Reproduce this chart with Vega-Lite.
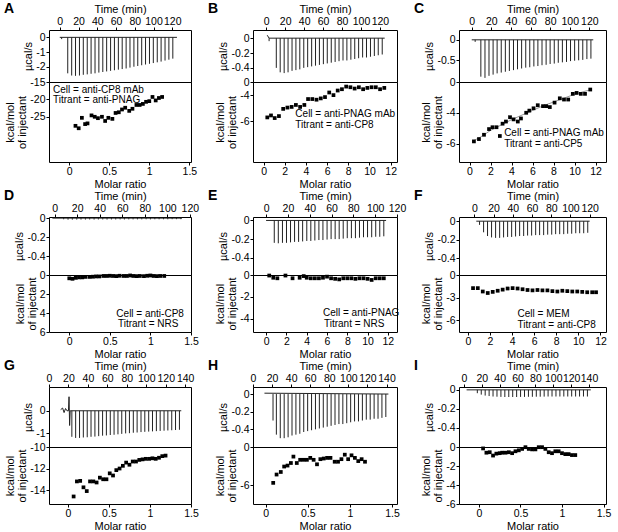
{
"$schema": "https://vega.github.io/schema/vega-lite/v6.json",
"background": "white",
"padding": {"left": 3, "top": 1, "right": 0, "bottom": 0},
"datasets": {
"spk": [
{"p":"A","t":2,"v":-0.12},{"p":"A","t":8.5,"v":-2.45},{"p":"A","t":12.7,"v":-2.6},{"p":"A","t":16.8,"v":-2.62},{"p":"A","t":21,"v":-2.6},{"p":"A","t":25.1,"v":-2.55},{"p":"A","t":29.3,"v":-2.52},{"p":"A","t":33.4,"v":-2.48},{"p":"A","t":37.6,"v":-2.45},{"p":"A","t":41.7,"v":-2.4},{"p":"A","t":45.9,"v":-2.36},{"p":"A","t":50,"v":-2.32},{"p":"A","t":54.2,"v":-2.28},{"p":"A","t":58.3,"v":-2.24},{"p":"A","t":62.5,"v":-2.2},{"p":"A","t":66.6,"v":-2.16},{"p":"A","t":70.8,"v":-2.12},{"p":"A","t":74.9,"v":-2.06},{"p":"A","t":79.1,"v":-2},{"p":"A","t":83.2,"v":-1.95},{"p":"A","t":87.4,"v":-1.9},{"p":"A","t":91.5,"v":-1.85},{"p":"A","t":95.7,"v":-1.8},{"p":"A","t":99.8,"v":-1.75},{"p":"A","t":104,"v":-1.7},{"p":"A","t":108.1,"v":-1.65},{"p":"A","t":112.3,"v":-1.58},{"p":"A","t":116.4,"v":-1.52},{"p":"A","t":120.6,"v":-1.45},
{"p":"B","t":3,"v":-0.04},{"p":"B","t":10.6,"v":-0.4},{"p":"B","t":14.7,"v":-0.46},{"p":"B","t":18.9,"v":-0.47},{"p":"B","t":23,"v":-0.46},{"p":"B","t":27.2,"v":-0.44},{"p":"B","t":31.3,"v":-0.43},{"p":"B","t":35.4,"v":-0.42},{"p":"B","t":39.6,"v":-0.4},{"p":"B","t":43.7,"v":-0.39},{"p":"B","t":47.9,"v":-0.38},{"p":"B","t":52,"v":-0.37},{"p":"B","t":56.1,"v":-0.36},{"p":"B","t":60.3,"v":-0.35},{"p":"B","t":64.4,"v":-0.34},{"p":"B","t":68.6,"v":-0.33},{"p":"B","t":72.7,"v":-0.32},{"p":"B","t":76.8,"v":-0.31},{"p":"B","t":81,"v":-0.3},{"p":"B","t":85.1,"v":-0.3},{"p":"B","t":89.3,"v":-0.29},{"p":"B","t":93.4,"v":-0.28},{"p":"B","t":97.5,"v":-0.27},{"p":"B","t":101.7,"v":-0.26},{"p":"B","t":105.8,"v":-0.26},{"p":"B","t":110,"v":-0.25},{"p":"B","t":114.1,"v":-0.24},{"p":"B","t":118.2,"v":-0.23},{"p":"B","t":122.4,"v":-0.22},
{"p":"C","t":3.5,"v":-0.05},{"p":"C","t":9.3,"v":-0.9},{"p":"C","t":13.5,"v":-0.93},{"p":"C","t":17.6,"v":-0.88},{"p":"C","t":21.8,"v":-0.85},{"p":"C","t":25.9,"v":-0.82},{"p":"C","t":30.1,"v":-0.8},{"p":"C","t":34.3,"v":-0.78},{"p":"C","t":38.4,"v":-0.76},{"p":"C","t":42.6,"v":-0.74},{"p":"C","t":46.7,"v":-0.72},{"p":"C","t":50.9,"v":-0.7},{"p":"C","t":55.1,"v":-0.68},{"p":"C","t":59.2,"v":-0.67},{"p":"C","t":63.4,"v":-0.65},{"p":"C","t":67.5,"v":-0.64},{"p":"C","t":71.7,"v":-0.62},{"p":"C","t":75.9,"v":-0.61},{"p":"C","t":80,"v":-0.59},{"p":"C","t":84.2,"v":-0.58},{"p":"C","t":88.3,"v":-0.56},{"p":"C","t":92.5,"v":-0.55},{"p":"C","t":96.7,"v":-0.54},{"p":"C","t":100.8,"v":-0.52},{"p":"C","t":105,"v":-0.51},{"p":"C","t":109.1,"v":-0.5},{"p":"C","t":113.3,"v":-0.49},{"p":"C","t":117.5,"v":-0.47},{"p":"C","t":121.6,"v":-0.46},
{"p":"D","t":8,"v":-0.012},{"p":"D","t":11.9,"v":-0.016},{"p":"D","t":15.7,"v":-0.016},{"p":"D","t":19.6,"v":-0.015},{"p":"D","t":23.4,"v":-0.015},{"p":"D","t":27.3,"v":-0.015},{"p":"D","t":31.1,"v":-0.014},{"p":"D","t":35,"v":-0.015},{"p":"D","t":38.8,"v":-0.014},{"p":"D","t":42.7,"v":-0.014},{"p":"D","t":46.5,"v":-0.015},{"p":"D","t":50.4,"v":-0.014},{"p":"D","t":54.2,"v":-0.014},{"p":"D","t":58.1,"v":-0.013},{"p":"D","t":61.9,"v":-0.014},{"p":"D","t":65.8,"v":-0.013},{"p":"D","t":69.6,"v":-0.013},{"p":"D","t":73.5,"v":-0.013},{"p":"D","t":77.3,"v":-0.013},{"p":"D","t":81.2,"v":-0.012},{"p":"D","t":85,"v":-0.013},{"p":"D","t":88.9,"v":-0.012},{"p":"D","t":92.7,"v":-0.012},{"p":"D","t":96.6,"v":-0.012},{"p":"D","t":100.4,"v":-0.012},{"p":"D","t":104.3,"v":-0.011},{"p":"D","t":108.1,"v":-0.011},{"p":"D","t":112,"v":-0.011},
{"p":"E","t":7.5,"v":-0.24},{"p":"E","t":11.2,"v":-0.245},{"p":"E","t":15,"v":-0.24},{"p":"E","t":18.7,"v":-0.24},{"p":"E","t":22.4,"v":-0.235},{"p":"E","t":26.1,"v":-0.23},{"p":"E","t":29.8,"v":-0.23},{"p":"E","t":33.5,"v":-0.225},{"p":"E","t":37.3,"v":-0.22},{"p":"E","t":41,"v":-0.22},{"p":"E","t":44.7,"v":-0.215},{"p":"E","t":48.4,"v":-0.21},{"p":"E","t":52.1,"v":-0.21},{"p":"E","t":55.9,"v":-0.205},{"p":"E","t":59.6,"v":-0.2},{"p":"E","t":63.3,"v":-0.2},{"p":"E","t":67,"v":-0.2},{"p":"E","t":70.7,"v":-0.195},{"p":"E","t":74.4,"v":-0.19},{"p":"E","t":78.2,"v":-0.19},{"p":"E","t":81.9,"v":-0.19},{"p":"E","t":85.6,"v":-0.185},{"p":"E","t":89.3,"v":-0.18},{"p":"E","t":93,"v":-0.18},{"p":"E","t":96.8,"v":-0.18},{"p":"E","t":100.5,"v":-0.175},{"p":"E","t":104.2,"v":-0.175},{"p":"E","t":107.9,"v":-0.17},
{"p":"F","t":5.4,"v":-0.04},{"p":"F","t":9.6,"v":-0.12},{"p":"F","t":13.7,"v":-0.16},{"p":"F","t":17.9,"v":-0.175},{"p":"F","t":22.1,"v":-0.18},{"p":"F","t":26.3,"v":-0.18},{"p":"F","t":30.4,"v":-0.175},{"p":"F","t":34.6,"v":-0.17},{"p":"F","t":38.8,"v":-0.17},{"p":"F","t":42.9,"v":-0.165},{"p":"F","t":47.1,"v":-0.16},{"p":"F","t":51.3,"v":-0.16},{"p":"F","t":55.4,"v":-0.155},{"p":"F","t":59.6,"v":-0.155},{"p":"F","t":63.8,"v":-0.15},{"p":"F","t":67.9,"v":-0.15},{"p":"F","t":72.1,"v":-0.15},{"p":"F","t":76.3,"v":-0.145},{"p":"F","t":80.5,"v":-0.145},{"p":"F","t":84.6,"v":-0.14},{"p":"F","t":88.8,"v":-0.14},{"p":"F","t":93,"v":-0.14},{"p":"F","t":97.1,"v":-0.135},{"p":"F","t":101.3,"v":-0.135},{"p":"F","t":105.5,"v":-0.13},{"p":"F","t":109.6,"v":-0.13},{"p":"F","t":113.8,"v":-0.13},{"p":"F","t":118,"v":-0.125},
{"p":"G","t":23.5,"v":-1.15},{"p":"G","t":27.4,"v":-1.2},{"p":"G","t":31.4,"v":-1.2},{"p":"G","t":35.3,"v":-1.18},{"p":"G","t":39.3,"v":-1.17},{"p":"G","t":43.2,"v":-1.15},{"p":"G","t":47.2,"v":-1.14},{"p":"G","t":51.1,"v":-1.12},{"p":"G","t":55.1,"v":-1.1},{"p":"G","t":59,"v":-1.09},{"p":"G","t":63,"v":-1.07},{"p":"G","t":66.9,"v":-1.06},{"p":"G","t":70.9,"v":-1.04},{"p":"G","t":74.8,"v":-1.02},{"p":"G","t":78.8,"v":-1},{"p":"G","t":82.7,"v":-0.99},{"p":"G","t":86.7,"v":-0.97},{"p":"G","t":90.6,"v":-0.96},{"p":"G","t":94.6,"v":-0.94},{"p":"G","t":98.5,"v":-0.93},{"p":"G","t":102.5,"v":-0.92},{"p":"G","t":106.4,"v":-0.91},{"p":"G","t":110.4,"v":-0.9},{"p":"G","t":114.3,"v":-0.89},{"p":"G","t":118.3,"v":-0.88},{"p":"G","t":122.2,"v":-0.87},{"p":"G","t":126.2,"v":-0.86},{"p":"G","t":130.1,"v":-0.85},{"p":"G","t":134.1,"v":-0.84},
{"p":"H","t":21,"v":-0.3},{"p":"H","t":24.5,"v":-0.46},{"p":"H","t":28.6,"v":-0.5},{"p":"H","t":32.7,"v":-0.5},{"p":"H","t":36.8,"v":-0.49},{"p":"H","t":40.9,"v":-0.47},{"p":"H","t":45,"v":-0.46},{"p":"H","t":49.1,"v":-0.45},{"p":"H","t":53.2,"v":-0.43},{"p":"H","t":57.3,"v":-0.42},{"p":"H","t":61.4,"v":-0.41},{"p":"H","t":65.5,"v":-0.4},{"p":"H","t":69.6,"v":-0.39},{"p":"H","t":73.7,"v":-0.38},{"p":"H","t":77.8,"v":-0.37},{"p":"H","t":81.9,"v":-0.36},{"p":"H","t":86,"v":-0.35},{"p":"H","t":90.1,"v":-0.34},{"p":"H","t":94.2,"v":-0.34},{"p":"H","t":98.3,"v":-0.33},{"p":"H","t":102.4,"v":-0.32},{"p":"H","t":106.5,"v":-0.31},{"p":"H","t":110.6,"v":-0.31},{"p":"H","t":114.7,"v":-0.3},{"p":"H","t":118.8,"v":-0.29},{"p":"H","t":122.9,"v":-0.29},{"p":"H","t":127,"v":-0.28},{"p":"H","t":131.1,"v":-0.28},{"p":"H","t":135.2,"v":-0.27},{"p":"H","t":139.3,"v":-0.26},
{"p":"I","t":15,"v":-0.035},{"p":"I","t":19.4,"v":-0.05},{"p":"I","t":23.8,"v":-0.06},{"p":"I","t":28.2,"v":-0.065},{"p":"I","t":32.6,"v":-0.07},{"p":"I","t":37,"v":-0.072},{"p":"I","t":41.4,"v":-0.074},{"p":"I","t":45.8,"v":-0.075},{"p":"I","t":50.2,"v":-0.075},{"p":"I","t":54.6,"v":-0.075},{"p":"I","t":59,"v":-0.075},{"p":"I","t":63.4,"v":-0.074},{"p":"I","t":67.8,"v":-0.074},{"p":"I","t":72.2,"v":-0.073},{"p":"I","t":76.6,"v":-0.073},{"p":"I","t":81,"v":-0.072},{"p":"I","t":85.4,"v":-0.072},{"p":"I","t":89.8,"v":-0.071},{"p":"I","t":94.2,"v":-0.07},{"p":"I","t":98.6,"v":-0.07},{"p":"I","t":103,"v":-0.07},{"p":"I","t":107.4,"v":-0.07},{"p":"I","t":111.8,"v":-0.07},{"p":"I","t":116.2,"v":-0.07},{"p":"I","t":120.6,"v":-0.07},{"p":"I","t":125,"v":-0.07},{"p":"I","t":129.4,"v":-0.07},{"p":"I","t":133.8,"v":-0.07},{"p":"I","t":138.2,"v":-0.07}
],
"base": [
{"p":"A","t":0,"v":0},{"p":"A","t":125,"v":0},
{"p":"B","t":1,"v":0.04},{"p":"B","t":3,"v":0},{"p":"B","t":125,"v":0},
{"p":"C","t":0,"v":0},{"p":"C","t":124,"v":0},
{"p":"D","t":-2,"v":0},{"p":"D","t":113,"v":0},
{"p":"E","t":0,"v":0},{"p":"E","t":110,"v":0},
{"p":"F","t":2,"v":0},{"p":"F","t":120,"v":0},
{"p":"G","t":12,"v":0.05},{"p":"G","t":14,"v":0.12},{"p":"G","t":15.5,"v":-0.08},{"p":"G","t":17,"v":0.1},{"p":"G","t":18.5,"v":0},{"p":"G","t":20,"v":0},{"p":"G","t":20.6,"v":0.62},{"p":"G","t":21.2,"v":-0.65},{"p":"G","t":21.8,"v":0},{"p":"G","t":136,"v":0},
{"p":"H","t":12,"v":0.01},{"p":"H","t":142,"v":0},
{"p":"I","t":3,"v":0},{"p":"I","t":142,"v":0}
],
"pts": [
{"p":"A","x":0.08,"y":-27.6},{"p":"A","x":0.12,"y":-28.3},{"p":"A","x":0.16,"y":-25.3},{"p":"A","x":0.2,"y":-27.1},{"p":"A","x":0.23,"y":-26.9},{"p":"A","x":0.28,"y":-24.6},{"p":"A","x":0.32,"y":-25},{"p":"A","x":0.36,"y":-25.4},{"p":"A","x":0.41,"y":-25},{"p":"A","x":0.45,"y":-26.2},{"p":"A","x":0.49,"y":-25.3},{"p":"A","x":0.54,"y":-25.6},{"p":"A","x":0.58,"y":-23.9},{"p":"A","x":0.62,"y":-23.7},{"p":"A","x":0.66,"y":-22.9},{"p":"A","x":0.7,"y":-22.4},{"p":"A","x":0.75,"y":-23.3},{"p":"A","x":0.79,"y":-22.7},{"p":"A","x":0.84,"y":-21.6},{"p":"A","x":0.88,"y":-21.6},{"p":"A","x":0.92,"y":-21.3},{"p":"A","x":0.96,"y":-20.7},{"p":"A","x":1.0,"y":-20.5},{"p":"A","x":1.04,"y":-19.3},{"p":"A","x":1.08,"y":-20.3},{"p":"A","x":1.12,"y":-19.6},{"p":"A","x":1.16,"y":-19.3},
{"p":"B","x":0.35,"y":-5.7},{"p":"B","x":0.7,"y":-5.55},{"p":"B","x":1.05,"y":-5.75},{"p":"B","x":1.45,"y":-5.6},{"p":"B","x":1.85,"y":-5.05},{"p":"B","x":2.25,"y":-4.95},{"p":"B","x":2.65,"y":-4.9},{"p":"B","x":3.05,"y":-4.75},{"p":"B","x":3.45,"y":-4.9},{"p":"B","x":3.85,"y":-4.75},{"p":"B","x":4.2,"y":-4.3},{"p":"B","x":4.6,"y":-4.3},{"p":"B","x":5.0,"y":-4.35},{"p":"B","x":5.4,"y":-4.25},{"p":"B","x":5.8,"y":-4.15},{"p":"B","x":6.2,"y":-3.8},{"p":"B","x":6.6,"y":-4.0},{"p":"B","x":7.0,"y":-3.65},{"p":"B","x":7.4,"y":-3.55},{"p":"B","x":7.8,"y":-3.35},{"p":"B","x":8.2,"y":-3.4},{"p":"B","x":8.6,"y":-3.5},{"p":"B","x":9.0,"y":-3.4},{"p":"B","x":9.4,"y":-3.55},{"p":"B","x":9.8,"y":-3.45},{"p":"B","x":10.2,"y":-3.4},{"p":"B","x":10.6,"y":-3.4},{"p":"B","x":11.0,"y":-3.55},{"p":"B","x":11.4,"y":-3.45},
{"p":"C","x":0.42,"y":-5.86},{"p":"C","x":0.9,"y":-5.71},{"p":"C","x":1.38,"y":-5.43},{"p":"C","x":1.86,"y":-5.06},{"p":"C","x":2.19,"y":-4.94},{"p":"C","x":2.57,"y":-4.94},{"p":"C","x":2.89,"y":-5.51},{"p":"C","x":3.15,"y":-4.71},{"p":"C","x":3.47,"y":-4.57},{"p":"C","x":3.86,"y":-4.29},{"p":"C","x":4.2,"y":-4.43},{"p":"C","x":4.6,"y":-4.57},{"p":"C","x":4.9,"y":-4.37},{"p":"C","x":5.4,"y":-4.0},{"p":"C","x":5.7,"y":-3.86},{"p":"C","x":6.1,"y":-3.71},{"p":"C","x":6.5,"y":-3.51},{"p":"C","x":7.0,"y":-3.57},{"p":"C","x":7.3,"y":-3.57},{"p":"C","x":7.65,"y":-3.63},{"p":"C","x":8.1,"y":-3.34},{"p":"C","x":8.6,"y":-3.06},{"p":"C","x":9.0,"y":-3.14},{"p":"C","x":9.4,"y":-3.14},{"p":"C","x":9.84,"y":-2.77},{"p":"C","x":10.2,"y":-2.71},{"p":"C","x":10.6,"y":-2.77},{"p":"C","x":11.0,"y":-2.77},{"p":"C","x":11.5,"y":-2.49},
{"p":"D","x":0,"y":0.35},{"p":"D","x":0.04,"y":0.4},{"p":"D","x":0.08,"y":0.3},{"p":"D","x":0.12,"y":0.25},{"p":"D","x":0.16,"y":0.25},{"p":"D","x":0.2,"y":0.2},{"p":"D","x":0.25,"y":0.2},{"p":"D","x":0.29,"y":0.18},{"p":"D","x":0.33,"y":0.15},{"p":"D","x":0.37,"y":0.15},{"p":"D","x":0.42,"y":0.1},{"p":"D","x":0.46,"y":0.1},{"p":"D","x":0.5,"y":0.08},{"p":"D","x":0.54,"y":0.1},{"p":"D","x":0.58,"y":0.12},{"p":"D","x":0.62,"y":0.08},{"p":"D","x":0.67,"y":0.1},{"p":"D","x":0.71,"y":0.1},{"p":"D","x":0.75,"y":0.05},{"p":"D","x":0.79,"y":0.1},{"p":"D","x":0.83,"y":0.12},{"p":"D","x":0.87,"y":0.1},{"p":"D","x":0.92,"y":0.12},{"p":"D","x":0.96,"y":0.08},{"p":"D","x":1.0,"y":0.05},{"p":"D","x":1.04,"y":0.1},{"p":"D","x":1.08,"y":0.12},{"p":"D","x":1.12,"y":0.1},{"p":"D","x":1.17,"y":0.1},
{"p":"E","x":0.3,"y":-0.05},{"p":"E","x":0.7,"y":-0.25},{"p":"E","x":1.1,"y":-0.3},{"p":"E","x":1.9,"y":-0.05},{"p":"E","x":2.6,"y":-0.3},{"p":"E","x":3.3,"y":-0.25},{"p":"E","x":3.7,"y":-0.1},{"p":"E","x":4.0,"y":-0.25},{"p":"E","x":4.4,"y":-0.3},{"p":"E","x":4.8,"y":-0.3},{"p":"E","x":5.2,"y":-0.3},{"p":"E","x":5.6,"y":-0.25},{"p":"E","x":6.0,"y":-0.15},{"p":"E","x":6.4,"y":-0.3},{"p":"E","x":6.8,"y":-0.35},{"p":"E","x":7.2,"y":-0.4},{"p":"E","x":7.6,"y":-0.3},{"p":"E","x":8.0,"y":-0.3},{"p":"E","x":8.4,"y":-0.3},{"p":"E","x":8.8,"y":-0.35},{"p":"E","x":9.2,"y":-0.3},{"p":"E","x":9.6,"y":-0.3},{"p":"E","x":10.0,"y":-0.35},{"p":"E","x":10.4,"y":-0.45},{"p":"E","x":10.8,"y":-0.3},{"p":"E","x":11.2,"y":-0.3},{"p":"E","x":11.6,"y":-0.3},
{"p":"F","x":0.47,"y":-1.75},{"p":"F","x":0.9,"y":-1.75},{"p":"F","x":1.35,"y":-2.2},{"p":"F","x":1.8,"y":-2.4},{"p":"F","x":2.25,"y":-2.25},{"p":"F","x":2.7,"y":-2.1},{"p":"F","x":3.15,"y":-1.95},{"p":"F","x":3.6,"y":-1.8},{"p":"F","x":4.05,"y":-1.75},{"p":"F","x":4.5,"y":-1.8},{"p":"F","x":4.95,"y":-1.9},{"p":"F","x":5.4,"y":-2.0},{"p":"F","x":5.85,"y":-2.05},{"p":"F","x":6.3,"y":-2.0},{"p":"F","x":6.75,"y":-2.05},{"p":"F","x":7.2,"y":-2.05},{"p":"F","x":7.65,"y":-2.15},{"p":"F","x":8.1,"y":-2.2},{"p":"F","x":8.55,"y":-2.1},{"p":"F","x":9.0,"y":-2.15},{"p":"F","x":9.45,"y":-2.2},{"p":"F","x":9.9,"y":-2.2},{"p":"F","x":10.35,"y":-2.25},{"p":"F","x":10.8,"y":-2.3},{"p":"F","x":11.25,"y":-2.3},{"p":"F","x":11.6,"y":-2.3},
{"p":"G","x":0.07,"y":-14.6},{"p":"G","x":0.11,"y":-13.2},{"p":"G","x":0.15,"y":-13.15},{"p":"G","x":0.19,"y":-13.75},{"p":"G","x":0.23,"y":-14.1},{"p":"G","x":0.27,"y":-13.2},{"p":"G","x":0.31,"y":-13.2},{"p":"G","x":0.35,"y":-13.3},{"p":"G","x":0.39,"y":-12.85},{"p":"G","x":0.43,"y":-13.0},{"p":"G","x":0.47,"y":-13.0},{"p":"G","x":0.51,"y":-12.45},{"p":"G","x":0.55,"y":-12.65},{"p":"G","x":0.59,"y":-12.15},{"p":"G","x":0.63,"y":-12.0},{"p":"G","x":0.67,"y":-11.75},{"p":"G","x":0.71,"y":-11.45},{"p":"G","x":0.75,"y":-11.65},{"p":"G","x":0.79,"y":-11.35},{"p":"G","x":0.83,"y":-11.35},{"p":"G","x":0.87,"y":-11.2},{"p":"G","x":0.91,"y":-11.15},{"p":"G","x":0.95,"y":-11.1},{"p":"G","x":0.99,"y":-11.1},{"p":"G","x":1.03,"y":-11.05},{"p":"G","x":1.07,"y":-11.1},{"p":"G","x":1.11,"y":-11.0},{"p":"G","x":1.15,"y":-10.85},{"p":"G","x":1.19,"y":-10.8},
{"p":"H","x":0.09,"y":-5.6},{"p":"H","x":0.13,"y":-4.3},{"p":"H","x":0.18,"y":-3.9},{"p":"H","x":0.22,"y":-3.05},{"p":"H","x":0.26,"y":-2.9},{"p":"H","x":0.3,"y":-2.5},{"p":"H","x":0.33,"y":-1.5},{"p":"H","x":0.37,"y":-2.5},{"p":"H","x":0.41,"y":-2.0},{"p":"H","x":0.45,"y":-2.0},{"p":"H","x":0.49,"y":-2.0},{"p":"H","x":0.53,"y":-1.7},{"p":"H","x":0.57,"y":-2.0},{"p":"H","x":0.61,"y":-2.7},{"p":"H","x":0.65,"y":-1.9},{"p":"H","x":0.69,"y":-1.8},{"p":"H","x":0.73,"y":-1.7},{"p":"H","x":0.77,"y":-1.7},{"p":"H","x":0.82,"y":-2.3},{"p":"H","x":0.86,"y":-2.3},{"p":"H","x":0.9,"y":-1.9},{"p":"H","x":0.94,"y":-1.2},{"p":"H","x":0.98,"y":-1.9},{"p":"H","x":1.02,"y":-1.3},{"p":"H","x":1.06,"y":-1.7},{"p":"H","x":1.1,"y":-2.2},{"p":"H","x":1.14,"y":-1.9},{"p":"H","x":1.18,"y":-2.3},
{"p":"I","x":0.05,"y":-0.15},{"p":"I","x":0.09,"y":-0.6},{"p":"I","x":0.13,"y":-0.55},{"p":"I","x":0.17,"y":-0.9},{"p":"I","x":0.21,"y":-0.7},{"p":"I","x":0.25,"y":-0.65},{"p":"I","x":0.28,"y":-0.6},{"p":"I","x":0.32,"y":-0.6},{"p":"I","x":0.36,"y":-0.55},{"p":"I","x":0.4,"y":-0.65},{"p":"I","x":0.44,"y":-0.45},{"p":"I","x":0.48,"y":-0.35},{"p":"I","x":0.52,"y":-0.2},{"p":"I","x":0.56,"y":-0.02},{"p":"I","x":0.6,"y":-0.2},{"p":"I","x":0.64,"y":-0.25},{"p":"I","x":0.68,"y":-0.25},{"p":"I","x":0.72,"y":-0.02},{"p":"I","x":0.76,"y":-0.02},{"p":"I","x":0.8,"y":-0.2},{"p":"I","x":0.84,"y":-0.55},{"p":"I","x":0.88,"y":-0.65},{"p":"I","x":0.92,"y":-0.45},{"p":"I","x":0.96,"y":-0.45},{"p":"I","x":1.0,"y":-0.65},{"p":"I","x":1.04,"y":-0.75},{"p":"I","x":1.08,"y":-0.75},{"p":"I","x":1.12,"y":-0.85},{"p":"I","x":1.16,"y":-0.85}
],
"fit": [
{"p":"C","x":0.3,"y":-5.85},{"p":"C","x":1,"y":-5.6},{"p":"C","x":2,"y":-5.15},{"p":"C","x":3,"y":-4.8},{"p":"C","x":4,"y":-4.45},{"p":"C","x":5,"y":-4.15},{"p":"C","x":6,"y":-3.85},{"p":"C","x":7,"y":-3.55},{"p":"C","x":8,"y":-3.3},{"p":"C","x":9,"y":-3.05},{"p":"C","x":10,"y":-2.8},{"p":"C","x":11,"y":-2.6},{"p":"C","x":11.6,"y":-2.5}
],
"txt": [
{"p":"A","x":-0.2,"y":-17.3,"s":"Cell = anti-CP8 mAb"},{"p":"A","x":-0.2,"y":-20.3,"s":"Titrant = anti-PNAG"},
{"p":"B","x":3.0,"y":-5.45,"s":"Cell = anti-PNAG mAb"},{"p":"B","x":3.0,"y":-6.25,"s":"Titrant = anti-CP8"},
{"p":"C","x":3.3,"y":-5.3,"s":"Cell = anti-PNAG mAb"},{"p":"C","x":3.3,"y":-6.0,"s":"Titrant = anti-CP5"},
{"p":"D","x":0.58,"y":4.1,"s":"Cell = anti-CP8"},{"p":"D","x":0.6,"y":5.2,"s":"Titrant = NRS"},
{"p":"E","x":5.6,"y":-3.5,"s":"Cell = anti-PNAG"},{"p":"E","x":5.7,"y":-4.45,"s":"Titrant = NRS"},
{"p":"F","x":4.5,"y":-5.2,"s":"Cell = MEM"},{"p":"F","x":4.5,"y":-6.6,"s":"Titrant = anti-CP8"}
]
},
"columns": 3,
"spacing": {"row": 0, "column": 62},
"bounds": "flush",
"align": "each",
"concat": [
{"title": {"text": "A"}, "width": 142, "height": 52, "layer": [
  {"data": {"name": "base"}, "transform": [{"filter": "datum.p == 'A'"}], "mark": {"type": "line", "color": "#222", "strokeWidth": 1},
   "encoding": {"x": {"field": "t", "type": "quantitative", "scale": {"domain": [-11.5, 140], "nice": false, "zero": false}, "axis": {"orient": "top", "title": "Time (min)", "values": [0,20,40,60,80,100,120], "tickCount": 40, "labelOverlap": false}},
                "y": {"field": "v", "type": "quantitative", "scale": {"domain": [-3.04, 0.5], "nice": false, "zero": false}, "axis": {"title": "µcal/s", "values": [0,-1,-2], "tickCount": 40, "labelOverlap": false}}}},
  {"data": {"name": "spk"}, "transform": [{"filter": "datum.p == 'A'"}], "mark": {"type": "rule", "color": "#222", "strokeWidth": 1},
   "encoding": {"x": {"field": "t", "type": "quantitative"}, "y": {"field": "v", "type": "quantitative"}, "y2": {"datum": 0}}}
]},
{"title": {"text": "B"}, "width": 144, "height": 52, "layer": [
  {"data": {"name": "base"}, "transform": [{"filter": "datum.p == 'B'"}], "mark": {"type": "line", "color": "#222", "strokeWidth": 1},
   "encoding": {"x": {"field": "t", "type": "quantitative", "scale": {"domain": [-14, 138], "nice": false, "zero": false}, "axis": {"orient": "top", "title": "Time (min)", "values": [0,20,40,60,80,100,120], "tickCount": 40, "labelOverlap": false}},
                "y": {"field": "v", "type": "quantitative", "scale": {"domain": [-0.59, 0.11], "nice": false, "zero": false}, "axis": {"title": "µcal/s", "values": [0,-0.2,-0.4], "tickCount": 40, "labelOverlap": false}}}},
  {"data": {"name": "spk"}, "transform": [{"filter": "datum.p == 'B'"}], "mark": {"type": "rule", "color": "#222", "strokeWidth": 1},
   "encoding": {"x": {"field": "t", "type": "quantitative"}, "y": {"field": "v", "type": "quantitative"}, "y2": {"datum": 0}}}
]},
{"title": {"text": "C"}, "width": 147, "height": 52, "layer": [
  {"data": {"name": "base"}, "transform": [{"filter": "datum.p == 'C'"}], "mark": {"type": "line", "color": "#222", "strokeWidth": 1},
   "encoding": {"x": {"field": "t", "type": "quantitative", "scale": {"domain": [-13, 137], "nice": false, "zero": false}, "axis": {"orient": "top", "title": "Time (min)", "values": [0,20,40,60,80,100,120], "tickCount": 40, "labelOverlap": false}},
                "y": {"field": "v", "type": "quantitative", "scale": {"domain": [-1.03, 0.24], "nice": false, "zero": false}, "axis": {"title": "µcal/s", "values": [0,-0.5], "tickCount": 40, "labelOverlap": false}}}},
  {"data": {"name": "spk"}, "transform": [{"filter": "datum.p == 'C'"}], "mark": {"type": "rule", "color": "#222", "strokeWidth": 1},
   "encoding": {"x": {"field": "t", "type": "quantitative"}, "y": {"field": "v", "type": "quantitative"}, "y2": {"datum": 0}}}
]},
{"width": 142, "height": 80, "layer": [
  {"data": {"name": "pts"}, "transform": [{"filter": "datum.p == 'A'"}], "mark": {"type": "square", "color": "black", "size": 14, "opacity": 1},
   "encoding": {"x": {"field": "x", "type": "quantitative", "scale": {"domain": [-0.25, 1.52], "nice": false, "zero": false}, "axis": {"title": "Molar ratio", "values": [0,0.5,1,1.5], "tickCount": 40, "labelOverlap": false}},
                "y": {"field": "y", "type": "quantitative", "scale": {"domain": [-38, -15], "nice": false, "zero": false}, "axis": {"title": ["kcal/mol", "of injectant"], "values": [-15,-20,-25], "tickCount": 40, "labelOverlap": false}}}},
  {"data": {"name": "txt"}, "transform": [{"filter": "datum.p == 'A'"}], "mark": {"type": "text", "align": "left", "fontSize": 10, "font": "Liberation Sans", "color": "black"},
   "encoding": {"x": {"field": "x", "type": "quantitative"}, "y": {"field": "y", "type": "quantitative"}, "text": {"field": "s"}}}
]},
{"width": 144, "height": 80, "layer": [
  {"data": {"name": "pts"}, "transform": [{"filter": "datum.p == 'B'"}], "mark": {"type": "square", "color": "black", "size": 14, "opacity": 1},
   "encoding": {"x": {"field": "x", "type": "quantitative", "scale": {"domain": [-1, 12.6], "nice": false, "zero": false}, "axis": {"title": "Molar ratio", "values": [0,2,4,6,8,10,12], "tickCount": 40, "labelOverlap": false}},
                "y": {"field": "y", "type": "quantitative", "scale": {"domain": [-9.1, -3], "nice": false, "zero": false}, "axis": {"title": ["kcal/mol", "of injectant"], "values": [-3,-4,-6], "tickCount": 40, "labelOverlap": false, "labelExpr": "datum.value == -3 ? '0' : toString(datum.value)"}}}},
  {"data": {"name": "txt"}, "transform": [{"filter": "datum.p == 'B'"}], "mark": {"type": "text", "align": "left", "fontSize": 10, "font": "Liberation Sans", "color": "black"},
   "encoding": {"x": {"field": "x", "type": "quantitative"}, "y": {"field": "y", "type": "quantitative"}, "text": {"field": "s"}}}
]},
{"width": 147, "height": 80, "layer": [
  {"data": {"name": "fit"}, "transform": [{"filter": "datum.p == 'C'"}], "mark": {"type": "line", "color": "#999", "strokeWidth": 1},
   "encoding": {"x": {"field": "x", "type": "quantitative", "scale": {"domain": [-1, 13], "nice": false, "zero": false}, "axis": {"title": "Molar ratio", "values": [0,2,4,6,8,10,12], "tickCount": 40, "labelOverlap": false}},
                "y": {"field": "y", "type": "quantitative", "scale": {"domain": [-7.2, -2], "nice": false, "zero": false}, "axis": {"title": ["kcal/mol", "of injectant"], "values": [-2,-4,-6], "tickCount": 40, "labelOverlap": false, "labelExpr": "datum.value == -2 ? '0' : toString(datum.value)"}}}},
  {"data": {"name": "pts"}, "transform": [{"filter": "datum.p == 'C'"}], "mark": {"type": "square", "color": "black", "size": 14, "opacity": 1},
   "encoding": {"x": {"field": "x", "type": "quantitative"}, "y": {"field": "y", "type": "quantitative"}}},
  {"data": {"name": "txt"}, "transform": [{"filter": "datum.p == 'C'"}], "mark": {"type": "text", "align": "left", "fontSize": 10, "font": "Liberation Sans", "color": "black"},
   "encoding": {"x": {"field": "x", "type": "quantitative"}, "y": {"field": "y", "type": "quantitative"}, "text": {"field": "s"}}}
]},
{"width": 142, "height": 55, "view": {"stroke": null}, "data": {"values": []}, "mark": "point", "encoding": {}},
{"width": 144, "height": 55, "view": {"stroke": null}, "data": {"values": []}, "mark": "point", "encoding": {}},
{"width": 147, "height": 55, "view": {"stroke": null}, "data": {"values": []}, "mark": "point", "encoding": {}},
{"title": {"text": "D"}, "width": 142, "height": 58, "layer": [
  {"data": {"name": "base"}, "transform": [{"filter": "datum.p == 'D'"}], "mark": {"type": "line", "color": "#222", "strokeWidth": 1},
   "encoding": {"x": {"field": "t", "type": "quantitative", "scale": {"domain": [-5, 121], "nice": false, "zero": false}, "axis": {"orient": "top", "title": "Time (min)", "values": [0,20,40,60,80,100,120], "tickCount": 40, "labelOverlap": false}},
                "y": {"field": "v", "type": "quantitative", "scale": {"domain": [-0.6, 0.012], "nice": false, "zero": false}, "axis": {"title": "µcal/s", "values": [0,-0.2,-0.4], "tickCount": 40, "labelOverlap": false}}}},
  {"data": {"name": "spk"}, "transform": [{"filter": "datum.p == 'D'"}], "mark": {"type": "rule", "color": "#222", "strokeWidth": 1},
   "encoding": {"x": {"field": "t", "type": "quantitative"}, "y": {"field": "v", "type": "quantitative"}, "y2": {"datum": 0}}}
]},
{"title": {"text": "E"}, "width": 144, "height": 58, "layer": [
  {"data": {"name": "base"}, "transform": [{"filter": "datum.p == 'E'"}], "mark": {"type": "line", "color": "#222", "strokeWidth": 1},
   "encoding": {"x": {"field": "t", "type": "quantitative", "scale": {"domain": [-12, 120], "nice": false, "zero": false}, "axis": {"orient": "top", "title": "Time (min)", "values": [0,20,40,60,80,100,120], "tickCount": 40, "labelOverlap": false}},
                "y": {"field": "v", "type": "quantitative", "scale": {"domain": [-0.585, 0.037], "nice": false, "zero": false}, "axis": {"title": "µcal/s", "values": [0,-0.2,-0.4], "tickCount": 40, "labelOverlap": false}}}},
  {"data": {"name": "spk"}, "transform": [{"filter": "datum.p == 'E'"}], "mark": {"type": "rule", "color": "#222", "strokeWidth": 1},
   "encoding": {"x": {"field": "t", "type": "quantitative"}, "y": {"field": "v", "type": "quantitative"}, "y2": {"datum": 0}}}
]},
{"title": {"text": "F"}, "width": 147, "height": 58, "layer": [
  {"data": {"name": "base"}, "transform": [{"filter": "datum.p == 'F'"}], "mark": {"type": "line", "color": "#222", "strokeWidth": 1},
   "encoding": {"x": {"field": "t", "type": "quantitative", "scale": {"domain": [-16, 137], "nice": false, "zero": false}, "axis": {"orient": "top", "title": "Time (min)", "values": [0,20,40,60,80,100,120], "tickCount": 40, "labelOverlap": false}},
                "y": {"field": "v", "type": "quantitative", "scale": {"domain": [-0.58, 0.045], "nice": false, "zero": false}, "axis": {"title": "µcal/s", "values": [0,-0.2,-0.4], "tickCount": 40, "labelOverlap": false}}}},
  {"data": {"name": "spk"}, "transform": [{"filter": "datum.p == 'F'"}], "mark": {"type": "rule", "color": "#222", "strokeWidth": 1},
   "encoding": {"x": {"field": "t", "type": "quantitative"}, "y": {"field": "v", "type": "quantitative"}, "y2": {"datum": 0}}}
]},
{"width": 142, "height": 57, "layer": [
  {"data": {"name": "pts"}, "transform": [{"filter": "datum.p == 'D'"}], "mark": {"type": "square", "color": "black", "size": 14, "opacity": 1},
   "encoding": {"x": {"field": "x", "type": "quantitative", "scale": {"domain": [-0.25, 1.5], "nice": false, "zero": false}, "axis": {"title": "Molar ratio", "values": [0,0.5,1,1.5], "tickCount": 40, "labelOverlap": false}},
                "y": {"field": "y", "type": "quantitative", "scale": {"domain": [0, 6], "reverse": true, "nice": false, "zero": false}, "axis": {"title": ["kcal/mol", "of injectant"], "values": [0,2,4,6], "tickCount": 40, "labelOverlap": false}}}},
  {"data": {"name": "txt"}, "transform": [{"filter": "datum.p == 'D'"}], "mark": {"type": "text", "align": "left", "fontSize": 10, "font": "Liberation Sans", "color": "black"},
   "encoding": {"x": {"field": "x", "type": "quantitative"}, "y": {"field": "y", "type": "quantitative"}, "text": {"field": "s"}}}
]},
{"width": 144, "height": 57, "layer": [
  {"data": {"name": "pts"}, "transform": [{"filter": "datum.p == 'E'"}], "mark": {"type": "square", "color": "black", "size": 14, "opacity": 1},
   "encoding": {"x": {"field": "x", "type": "quantitative", "scale": {"domain": [-1.3, 12.9], "nice": false, "zero": false}, "axis": {"title": "Molar ratio", "values": [0,2,4,6,8,10,12], "tickCount": 40, "labelOverlap": false}},
                "y": {"field": "y", "type": "quantitative", "scale": {"domain": [-5.2, 0], "nice": false, "zero": false}, "axis": {"title": ["kcal/mol", "of injectant"], "values": [0,-2,-4], "tickCount": 40, "labelOverlap": false}}}},
  {"data": {"name": "txt"}, "transform": [{"filter": "datum.p == 'E'"}], "mark": {"type": "text", "align": "left", "fontSize": 10, "font": "Liberation Sans", "color": "black"},
   "encoding": {"x": {"field": "x", "type": "quantitative"}, "y": {"field": "y", "type": "quantitative"}, "text": {"field": "s"}}}
]},
{"width": 147, "height": 57, "layer": [
  {"data": {"name": "pts"}, "transform": [{"filter": "datum.p == 'F'"}], "mark": {"type": "square", "color": "black", "size": 14, "opacity": 1},
   "encoding": {"x": {"field": "x", "type": "quantitative", "scale": {"domain": [-0.8, 12.5], "nice": false, "zero": false}, "axis": {"title": "Molar ratio", "values": [0,2,4,6,8,10,12], "tickCount": 40, "labelOverlap": false}},
                "y": {"field": "y", "type": "quantitative", "scale": {"domain": [-7.6, 0], "nice": false, "zero": false}, "axis": {"title": ["kcal/mol", "of injectant"], "values": [0,-3,-6], "tickCount": 40, "labelOverlap": false}}}},
  {"data": {"name": "txt"}, "transform": [{"filter": "datum.p == 'F'"}], "mark": {"type": "text", "align": "left", "fontSize": 10, "font": "Liberation Sans", "color": "black"},
   "encoding": {"x": {"field": "x", "type": "quantitative"}, "y": {"field": "y", "type": "quantitative"}, "text": {"field": "s"}}}
]},
{"width": 142, "height": 55, "view": {"stroke": null}, "data": {"values": []}, "mark": "point", "encoding": {}},
{"width": 144, "height": 55, "view": {"stroke": null}, "data": {"values": []}, "mark": "point", "encoding": {}},
{"width": 147, "height": 55, "view": {"stroke": null}, "data": {"values": []}, "mark": "point", "encoding": {}},
{"title": {"text": "G"}, "width": 142, "height": 60, "layer": [
  {"data": {"name": "base"}, "transform": [{"filter": "datum.p == 'G'"}], "mark": {"type": "line", "color": "#222", "strokeWidth": 1},
   "encoding": {"x": {"field": "t", "type": "quantitative", "scale": {"domain": [0, 146], "nice": false, "zero": false}, "axis": {"orient": "top", "title": "Time (min)", "values": [0,20,40,60,80,100,120,140], "tickCount": 40, "labelOverlap": false}},
                "y": {"field": "v", "type": "quantitative", "scale": {"domain": [-1.6, 1.05], "nice": false, "zero": false}, "axis": {"title": "µcal/s", "values": [0,-1], "tickCount": 40, "labelOverlap": false}}}},
  {"data": {"name": "spk"}, "transform": [{"filter": "datum.p == 'G'"}], "mark": {"type": "rule", "color": "#222", "strokeWidth": 1},
   "encoding": {"x": {"field": "t", "type": "quantitative"}, "y": {"field": "v", "type": "quantitative"}, "y2": {"datum": 0}}}
]},
{"title": {"text": "H"}, "width": 144, "height": 60, "layer": [
  {"data": {"name": "base"}, "transform": [{"filter": "datum.p == 'H'"}], "mark": {"type": "line", "color": "#222", "strokeWidth": 1},
   "encoding": {"x": {"field": "t", "type": "quantitative", "scale": {"domain": [0, 151], "nice": false, "zero": false}, "axis": {"orient": "top", "title": "Time (min)", "values": [0,20,40,60,80,100,120,140], "tickCount": 40, "labelOverlap": false}},
                "y": {"field": "v", "type": "quantitative", "scale": {"domain": [-0.6, 0.08], "nice": false, "zero": false}, "axis": {"title": "µcal/s", "values": [0,-0.2,-0.4], "tickCount": 40, "labelOverlap": false}}}},
  {"data": {"name": "spk"}, "transform": [{"filter": "datum.p == 'H'"}], "mark": {"type": "rule", "color": "#222", "strokeWidth": 1},
   "encoding": {"x": {"field": "t", "type": "quantitative"}, "y": {"field": "v", "type": "quantitative"}, "y2": {"datum": 0}}}
]},
{"title": {"text": "I"}, "width": 147, "height": 60, "layer": [
  {"data": {"name": "base"}, "transform": [{"filter": "datum.p == 'I'"}], "mark": {"type": "line", "color": "#222", "strokeWidth": 1},
   "encoding": {"x": {"field": "t", "type": "quantitative", "scale": {"domain": [-5.5, 159], "nice": false, "zero": false}, "axis": {"orient": "top", "title": "Time (min)", "values": [0,20,40,60,80,100,120,140], "tickCount": 40, "labelOverlap": false}},
                "y": {"field": "v", "type": "quantitative", "scale": {"domain": [-0.6, 0.03], "nice": false, "zero": false}, "axis": {"title": "µcal/s", "values": [0,-0.2,-0.4], "tickCount": 40, "labelOverlap": false}}}},
  {"data": {"name": "spk"}, "transform": [{"filter": "datum.p == 'I'"}], "mark": {"type": "rule", "color": "#222", "strokeWidth": 1},
   "encoding": {"x": {"field": "t", "type": "quantitative"}, "y": {"field": "v", "type": "quantitative"}, "y2": {"datum": 0}}}
]},
{"width": 142, "height": 57, "layer": [
  {"data": {"name": "pts"}, "transform": [{"filter": "datum.p == 'G'"}], "mark": {"type": "square", "color": "black", "size": 14, "opacity": 1},
   "encoding": {"x": {"field": "x", "type": "quantitative", "scale": {"domain": [-0.23, 1.5], "nice": false, "zero": false}, "axis": {"title": "Molar ratio", "values": [0,0.5,1,1.5], "tickCount": 40, "labelOverlap": false}},
                "y": {"field": "y", "type": "quantitative", "scale": {"domain": [-15.3, -10], "nice": false, "zero": false}, "axis": {"title": ["kcal/mol", "of injectant"], "values": [-10,-12,-14], "tickCount": 40, "labelOverlap": false}}}}
]},
{"width": 144, "height": 57, "layer": [
  {"data": {"name": "pts"}, "transform": [{"filter": "datum.p == 'H'"}], "mark": {"type": "square", "color": "black", "size": 14, "opacity": 1},
   "encoding": {"x": {"field": "x", "type": "quantitative", "scale": {"domain": [-0.15, 1.56], "nice": false, "zero": false}, "axis": {"title": "Molar ratio", "values": [0,0.5,1,1.5], "tickCount": 40, "labelOverlap": false}},
                "y": {"field": "y", "type": "quantitative", "scale": {"domain": [-8.9, 0], "nice": false, "zero": false}, "axis": {"title": ["kcal/mol", "of injectant"], "values": [0,-6], "tickCount": 40, "labelOverlap": false}}}}
]},
{"width": 147, "height": 57, "layer": [
  {"data": {"name": "pts"}, "transform": [{"filter": "datum.p == 'I'"}], "mark": {"type": "square", "color": "black", "size": 14, "opacity": 1},
   "encoding": {"x": {"field": "x", "type": "quantitative", "scale": {"domain": [-0.24, 1.53], "nice": false, "zero": false}, "axis": {"title": "Molar ratio", "values": [0,0.5,1,1.5], "tickCount": 40, "labelOverlap": false}},
                "y": {"field": "y", "type": "quantitative", "scale": {"domain": [-6, 0], "nice": false, "zero": false}, "axis": {"title": ["kcal/mol", "of injectant"], "values": [0,-2,-4,-6], "tickCount": 40, "labelOverlap": false}}}}
]}
],
"config": {
 "font": "Liberation Sans",
 "view": {"stroke": "black", "strokeWidth": 1},
 "axis": {"domain": false, "grid": false, "ticks": true, "tickColor": "black", "tickSize": 3, "labelFont": "Liberation Sans", "labelFontSize": 10.5, "labelColor": "black", "labelPadding": 1, "labelExpr": "toString(datum.value)", "titleFont": "Liberation Sans", "titleFontSize": 11, "titleFontWeight": "normal", "titleColor": "black", "titlePadding": 2, "titleLineHeight": 12, "labelOverlap": false, "labelFlush": false},
 "title": {"font": "Liberation Sans", "fontSize": 14, "fontWeight": "bold", "anchor": "start", "frame": "group", "dx": -45, "offset": -13, "color": "black"}
}
}
